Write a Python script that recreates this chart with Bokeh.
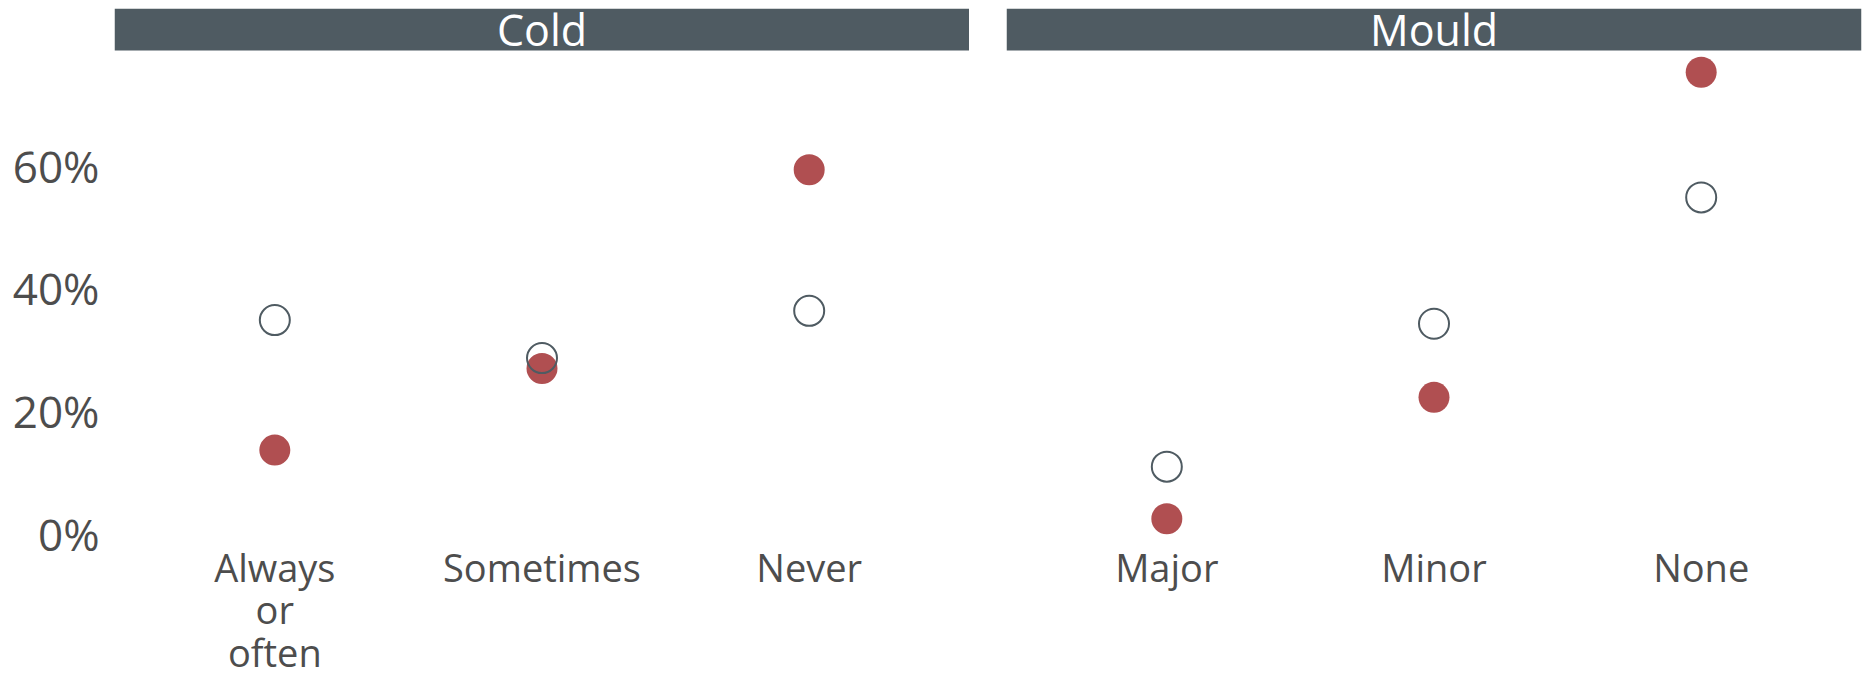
from bokeh.plotting import figure
from bokeh.layouts import row
from bokeh.models import FactorRange, Range1d, BoxAnnotation, FixedTicker, ColumnDataSource
from bokeh.core.properties import value
from bokeh.embed import file_html
from bokeh.resources import INLINE

# ---- data ----
panel_titles = ["Cold", "Mould"]
cold_categories = ["Always\nor\noften", "Sometimes", "Never"]
mould_categories = ["Major", "Minor", "None"]
cold_open = [34.8, 28.6, 36.3]
cold_filled = [13.6, 26.9, 59.3]
mould_open = [10.9, 34.2, 54.8]
mould_filled = [2.4, 22.2, 75.2]
y_ticks = [0, 20, 40, 60]
y_tick_labels = ["0%", "20%", "40%", "60%"]

# ---- style ----
FONT = "Open Sans"
TEXT = "#4d4d4d"
STRIP = "#4f5b62"
RED = "#b04f51"
FRAME_W = 855
TOTAL_H = 681
TOP = 8
BOTTOM = 141
STRIP_BOTTOM = 78.75
STRIP_MID = 82.2

y_range = Range1d(-1.14, 85.6)


def make_panel(title, cats, open_vals, filled_vals, show_y):
    left = 114 if show_y else 37
    right = 0 if show_y else 2
    p = figure(
        width=left + FRAME_W + right, height=TOTAL_H,
        x_range=FactorRange(*cats, range_padding=0.1, range_padding_units="absolute"),
        y_range=y_range,
        output_backend="svg", toolbar_location=None,
        y_axis_location="left" if show_y else None,
        min_border_left=left, min_border_right=right, min_border_top=TOP,
        min_border_bottom=BOTTOM,
    )
    p.outline_line_color = None
    p.grid.visible = False
    p.background_fill_color = "white"
    p.border_fill_color = "white"

    strip = BoxAnnotation(bottom=STRIP_BOTTOM, fill_color=STRIP, fill_alpha=1.0,
                          line_color=None, level="underlay")
    p.add_layout(strip)
    p.text(x=[cats[1]], y=[STRIP_MID], text=[title], text_color="white",
           text_font=value(FONT), text_font_size="43px", text_align="center",
           text_baseline="middle")

    src = ColumnDataSource(dict(cat=cats, open=open_vals, filled=filled_vals))
    p.scatter(x="cat", y="filled", source=src, size=31, marker="circle",
              fill_color=RED, line_color=None)
    p.scatter(x="cat", y="open", source=src, size=30, marker="circle",
              fill_alpha=0, line_color=STRIP, line_width=2)

    xa = p.xaxis[0]
    xa.axis_line_color = None
    xa.major_tick_line_color = None
    xa.minor_tick_line_color = None
    xa.major_tick_out = 0
    xa.major_tick_in = 0
    xa.major_label_standoff = 0
    xa.major_label_text_font = FONT
    xa.major_label_text_font_size = "38px"
    xa.major_label_text_color = TEXT
    xa.major_label_text_line_height = 0.82

    if show_y:
        ya = p.yaxis[0]
        ya.ticker = FixedTicker(ticks=y_ticks)
        ya.major_label_overrides = {t: l for t, l in zip(y_ticks, y_tick_labels)}
        ya.axis_line_color = None
        ya.major_tick_line_color = None
        ya.minor_tick_line_color = None
        ya.major_tick_out = 0
        ya.major_tick_in = 0
        ya.major_label_standoff = 15
        ya.major_label_text_font = FONT
        ya.major_label_text_font_size = "44px"
        ya.major_label_text_color = TEXT
    return p


p1 = make_panel(panel_titles[0], cold_categories, cold_open, cold_filled, True)
p2 = make_panel(panel_titles[1], mould_categories, mould_open, mould_filled, False)
layout = row(p1, p2, spacing=0)

open("out.html", "w").write(file_html(layout, INLINE))
